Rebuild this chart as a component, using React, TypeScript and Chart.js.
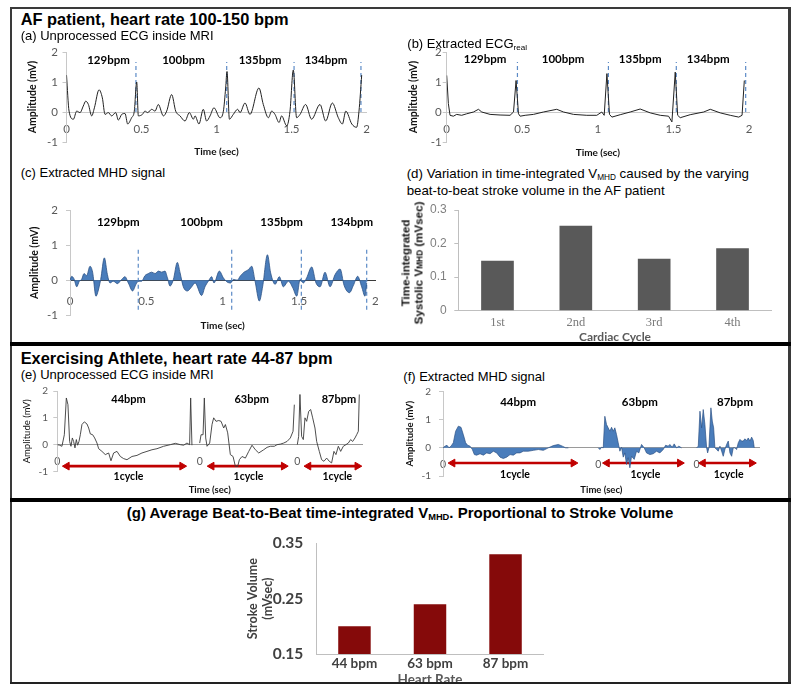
import React, { useEffect, useRef } from 'react';
import { Chart, registerables } from 'chart.js';

Chart.register(...registerables);
Chart.defaults.font.family = 'Lato, "Liberation Sans", sans-serif';

type Pt = [number, number];
type Rect = { l: number; t: number; r: number; b: number };

// ---------------- DATA ----------------
const ampTicks = [-1, 0, 1, 2];
const timeTicks = [0, 0.5, 1, 1.5, 2];
const timeTickLabels = ['0', '0.5', '1', '1.5', '2'];

const afBpmLabels = ['129bpm', '100bpm', '135bpm', '134bpm'];
const afBpmTimesA = [0.28, 0.78, 1.29, 1.73];
const afBpmTimesB = [0.254, 0.77, 1.28, 1.73];
const afBpmTimesC = [0.316, 0.862, 1.386, 1.845];
const afBeatTimesA = [0.463, 1.068, 1.517, 1.963];
const afBeatTimesB = [0.468, 1.07, 1.519, 1.978];
const afBeatTimesC = [0.447, 1.059, 1.515, 1.943];

// (a) unprocessed ECG inside MRI [time s, amplitude mV]
const ecgA: Pt[] = [
  [0, 1.23], [0.017, 0.03], [0.046, -0.24], [0.068, 0.03], [0.09, -0.02], [0.112, 0.2], [0.128, 0.36],
  [0.146, 0.25], [0.168, -0.13], [0.186, 0.14], [0.217, 0.74], [0.239, 0.47], [0.257, -0.08], [0.279, -0.02],
  [0.301, -0.13], [0.328, -0.02], [0.346, -0.27], [0.368, -0.08], [0.39, -0.05], [0.408, -0.4], [0.434, -0.19],
  [0.452, 0.03], [0.468, 1.0], [0.479, -0.13], [0.506, -0.08], [0.523, 0.03], [0.541, -0.02], [0.568, 0.09],
  [0.59, 0.03], [0.612, 0.25], [0.646, -0.13], [0.668, 0.03], [0.701, 0.58], [0.728, 0.03], [0.757, -0.13],
  [0.79, -0.3], [0.819, -0.02], [0.846, -0.24], [0.857, -0.13], [0.883, -0.4], [0.912, 0.09], [0.934, -0.3],
  [0.957, -0.13], [0.983, 0.14], [1.023, -0.19], [1.046, 0.03], [1.061, 0.8], [1.07, 1.35], [1.086, -0.24],
  [1.112, -0.08], [1.141, 0.09], [1.157, -0.02], [1.19, 0.3], [1.223, -0.08], [1.283, 0.8], [1.312, 0.25],
  [1.346, -0.19], [1.368, 0.03], [1.39, -0.08], [1.417, -0.35], [1.434, -0.13], [1.468, -0.46], [1.49, 0.03],
  [1.512, 1.4], [1.534, -0.19], [1.557, -0.08], [1.594, 0.25], [1.634, -0.24], [1.69, 0.25], [1.728, -0.3],
  [1.772, 0.3], [1.812, -0.19], [1.839, -0.4], [1.862, 0.03], [1.902, -0.4], [1.934, -0.51], [1.95, 0.03],
  [1.968, 1.23],
];

// (b) extracted ECG real
const ecgB: Pt[] = [
  [0, 1.22], [0.011, 0.28], [0.022, -0.11], [0.044, -0.14], [0.066, -0.08], [0.099, -0.11], [0.132, -0.06],
  [0.177, 0], [0.21, 0.09], [0.232, 0], [0.287, -0.08], [0.353, -0.1], [0.419, -0.11], [0.442, 0], [0.459, 1.05],
  [0.475, -0.06], [0.486, -0.14], [0.519, -0.11], [0.574, -0.08], [0.64, 0], [0.728, 0.09], [0.773, 0],
  [0.839, -0.08], [0.927, -0.11], [0.993, -0.11], [1.026, 0], [1.042, -0.11], [1.06, 1.28], [1.077, -0.08],
  [1.093, -0.17], [1.148, -0.09], [1.214, 0], [1.28, 0.1], [1.347, -0.03], [1.413, -0.11], [1.468, -0.14],
  [1.49, -0.33], [1.512, 1.33], [1.528, -0.11], [1.545, -0.19], [1.611, -0.09], [1.7, 0], [1.744, 0.09],
  [1.81, -0.03], [1.876, -0.11], [1.932, -0.17], [1.954, -0.11], [1.969, 1.05],
];

// (c) extracted MHD signal
const mhdC: Pt[] = [
  [0, 0], [0.011, 0.11], [0.026, 0.04], [0.044, -0.19], [0.061, -0.03], [0.076, 0.02], [0.092, 0.19],
  [0.109, 0.13], [0.131, 0.4], [0.148, 0.23], [0.17, -0.46], [0.181, -0.36], [0.201, 0.02], [0.225, 0.64],
  [0.245, 0.16], [0.262, -0.08], [0.284, -0.03], [0.31, -0.1], [0.338, 0.02], [0.36, 0.1], [0.382, -0.08],
  [0.41, -0.31], [0.432, -0.12], [0.448, -0.03], [0.469, -0.03], [0.491, 0.13], [0.513, 0.19], [0.535, 0.23],
  [0.557, 0.19], [0.579, 0.26], [0.6, 0.23], [0.622, 0.26], [0.638, 0.07], [0.655, -0.17], [0.677, 0.02],
  [0.703, 0.51], [0.721, 0.21], [0.742, -0.19], [0.769, -0.31], [0.797, -0.19], [0.819, -0.08], [0.862, -0.44],
  [0.884, -0.19], [0.906, -0.03], [0.928, 0.1], [0.943, -0.08], [0.978, 0.26], [1.004, 0.07], [1.031, -0.06],
  [1.052, -0.08], [1.07, 0.02], [1.096, 0], [1.114, 0.11], [1.14, 0.23], [1.168, 0.3], [1.19, 0.4],
  [1.212, -0.03], [1.24, -0.6], [1.262, -0.17], [1.293, 0.73], [1.314, 0.21], [1.343, -0.12], [1.371, 0.1],
  [1.397, -0.19], [1.43, -0.03], [1.459, -0.22], [1.485, -0.46], [1.507, 0.02], [1.528, -0.08], [1.55, 0.07],
  [1.583, 0.38], [1.611, -0.08], [1.638, -0.19], [1.67, 0.23], [1.703, -0.19], [1.736, 0.16], [1.769, 0.32],
  [1.795, -0.15], [1.83, -0.36], [1.856, -0.15], [1.884, 0.11], [1.91, -0.19], [1.932, -0.46], [1.943, -0.08],
];

// (d) time-integrated systolic VMHD per cardiac cycle
const afCycles = ['1st', '2nd', '3rd', '4th'];
const afVmhd = [0.149, 0.253, 0.155, 0.186];
const afVmhdTicks = [0, 0.1, 0.2, 0.3];

// (e)/(f) exercising athlete: three cycles, each with local time from its own "0"
const athBpmLabels = ['44bpm', '63bpm', '87bpm'];
const segStartsE = [0, 1.78, 3.0];
const segStartsF = [0, 1.94, 3.17];
const bpmTimesE = [0.89, 2.43, 3.52];
const bpmTimesF = [0.94, 2.46, 3.65];
const cycleArrowsE: Pt[] = [[0.12, 1.56], [1.93, 2.83], [3.14, 3.75]];
const cycleArrowsF: Pt[] = [[0.12, 1.63], [2.05, 2.96], [3.25, 3.86]];
const cycleLabelTimesE = [0.89, 2.39, 3.5];
const cycleLabelTimesF = [0.9, 2.53, 3.57];

const ecgE1: Pt[] = [
  [0, 0], [0.029, -0.02], [0.058, -0.06], [0.088, 0.37], [0.113, 1.74], [0.133, 1.49], [0.154, 0.12],
  [0.171, -0.06], [0.188, 0.25], [0.204, 0.12], [0.221, -0.12], [0.238, 0.19], [0.254, -0.02], [0.271, 0.12],
  [0.288, 0.37], [0.308, 0.75], [0.338, 0.85], [0.371, 0.77], [0.392, 0.62], [0.413, 0.4], [0.442, 0.37],
  [0.467, 0.25], [0.496, 0.06], [0.517, -0.15], [0.558, -0.25], [0.6, -0.37], [0.642, -0.31], [0.671, -0.6],
  [0.704, -0.31], [0.746, -0.25], [0.788, -0.44], [0.829, -0.52], [0.871, -0.56], [0.933, -0.44], [0.996, -0.4],
  [1.058, -0.31], [1.121, -0.25], [1.183, -0.19], [1.246, -0.15], [1.329, -0.06], [1.413, 0], [1.475, 0.05],
  [1.538, 0], [1.579, -0.02], [1.621, 0.06], [1.654, 0], [1.667, 1.74], [1.683, -0.02],
];
const ecgE2: Pt[] = [
  [0, 0.06], [0.017, 0.37], [0.042, 0.37], [0.058, 1.74], [0.075, 0.25], [0.092, -0.06], [0.125, 0.06],
  [0.154, 0.75], [0.175, 1.0], [0.204, 0.87], [0.238, 0.9], [0.267, 0.87], [0.3, 0.62], [0.321, 0.75],
  [0.35, 0.44], [0.383, -0.37], [0.417, -0.44], [0.446, -0.81], [0.475, -0.81], [0.496, -0.56], [0.529, -0.44],
  [0.571, -0.5], [0.613, -0.25], [0.654, -0.02], [0.696, -0.19], [0.738, -0.31], [0.8, -0.19], [0.842, -0.1],
  [0.883, -0.06], [0.933, -0.06], [0.967, 0], [1.008, 0.02], [1.05, 0.06], [1.092, 0.12], [1.133, 0.25],
  [1.167, 0.5], [1.183, 1.49],
];
const ecgE3: Pt[] = [
  [0, 0], [0.017, 0.31], [0.033, 1.87], [0.054, 0.31], [0.075, 0.19], [0.096, 1.0], [0.117, 0.87],
  [0.142, 1.24], [0.167, 1.31], [0.192, 1.0], [0.221, 0.62], [0.242, 0.12], [0.275, -0.25], [0.304, -0.56],
  [0.333, -0.62], [0.367, -0.5], [0.4, -0.62], [0.429, -0.68], [0.458, -0.25], [0.483, -0.37], [0.513, -0.06],
  [0.542, -0.25], [0.575, -0.06], [0.608, 0], [0.638, 0.06], [0.667, 0.19], [0.692, 0.12], [0.721, 0.25],
  [0.742, 0.37], [0.763, 0.5], [0.775, 1.87],
];

const mhdF1: Pt[] = [
  [0, 0], [0.025, 0.06], [0.05, 0.09], [0.075, 0], [0.1, 0.06], [0.129, 0.18], [0.158, 0.59], [0.192, 0.77],
  [0.225, 0.73], [0.254, 0.47], [0.283, 0.18], [0.308, 0.09], [0.338, 0.06], [0.367, -0.06], [0.392, -0.24],
  [0.421, -0.26], [0.463, -0.21], [0.504, -0.26], [0.546, -0.18], [0.588, -0.21], [0.629, -0.12], [0.671, -0.18],
  [0.713, -0.33], [0.754, -0.38], [0.796, -0.33], [0.838, -0.24], [0.879, -0.26], [0.921, -0.18], [0.963, -0.18],
  [1.004, -0.12], [1.067, -0.12], [1.129, -0.09], [1.192, -0.06], [1.254, -0.09], [1.317, 0], [1.379, 0.08],
  [1.442, 0.12], [1.492, 0.06], [1.533, 0], [1.567, 0],
];
const mhdF2: Pt[] = [
  [0, 0], [0.021, -0.06], [0.042, 0.02], [0.063, 0], [0.083, 1.12], [0.104, 0.83], [0.125, 0.71], [0.146, 0.59],
  [0.167, 0.73], [0.188, 0.59], [0.208, 0.71], [0.229, 0.47], [0.25, 0.18], [0.271, -0.12], [0.292, 0.02],
  [0.313, -0.33], [0.333, -0.18], [0.354, -0.59], [0.375, -0.35], [0.396, -0.71], [0.417, -0.3], [0.45, -0.41],
  [0.479, -0.12], [0.508, -0.18], [0.542, 0.12], [0.575, 0], [0.604, -0.18], [0.646, -0.24], [0.688, -0.21],
  [0.729, -0.12], [0.771, -0.18], [0.813, -0.06], [0.842, 0.09], [0.875, 0.06], [0.896, 0.12], [0.925, 0.02],
  [0.95, 0.14], [0.979, 0], [1.008, 0.06], [1.042, 0],
];
const mhdF3: Pt[] = [
  [0, 0], [0.021, 0.06], [0.042, 1.3], [0.063, 0.71], [0.083, 1.36], [0.104, 0.83], [0.125, 0], [0.138, -0.18],
  [0.154, 0], [0.179, 1.42], [0.196, 0.95], [0.213, 0.71], [0.229, 0], [0.25, -0.06], [0.271, -0.12],
  [0.292, 0.06], [0.313, -0.12], [0.333, -0.3], [0.354, -0.06], [0.375, 0.12], [0.396, 0.24], [0.417, -0.18],
  [0.438, -0.3], [0.458, 0], [0.479, 0], [0.5, -0.06], [0.521, 0.18], [0.542, 0.3], [0.563, 0.24], [0.583, 0.24],
  [0.604, 0.32], [0.625, 0.26], [0.646, 0.35], [0.667, 0.24], [0.688, 0.38], [0.708, 0.26], [0.721, 0],
];

// (g) average beat-to-beat time-integrated VMHD
const heartRates = ['44 bpm', '63 bpm', '87 bpm'];
const strokeVolume = [0.2, 0.24, 0.33];
const strokeTicks = [0.15, 0.25, 0.35];

// ---------------- HELPERS ----------------
const toXY = (pts: Pt[], off = 0) => pts.map(([x, y]) => ({ x: x + off, y }));

function zeroPad(s: any) {
  s.paddingLeft = 0;
  s.paddingRight = 0;
  s.paddingTop = 0;
  s.paddingBottom = 0;
}

function makeTextPlugin(items: any[]) {
  return {
    id: 'textLabels',
    afterDatasetsDraw(chart: any) {
      const ctx = chart.ctx;
      const xs = chart.scales.x;
      const ys = chart.scales.y;
      ctx.save();
      items.forEach((it) => {
        ctx.font = it.font;
        ctx.fillStyle = it.color || '#000';
        ctx.textAlign = 'center';
        ctx.textBaseline = 'middle';
        ctx.fillText(it.text, xs.getPixelForValue(it.x), ys.getPixelForValue(it.y));
      });
      ctx.restore();
    },
  };
}

function lineDs(data: any[], color: string, width: number, extra: any = {}) {
  return { data, borderColor: color, borderWidth: width, pointRadius: 0, xAxisID: 'x', yAxisID: 'y', tension: 0, ...extra };
}

function dashDs(t: number, y0: number, y1: number) {
  return lineDs([{ x: t, y: y0 }, { x: t, y: y1 }], '#5b8ac6', 1.2, { borderDash: [4, 3] });
}

function arrowDs(a: number, b: number, y: number) {
  return lineDs([{ x: a, y }, { x: b, y }], '#c00000', 2.6, {
    pointRadius: 4.5,
    pointStyle: 'triangle',
    pointRotation: [-90, 90],
    pointBackgroundColor: '#c00000',
    pointBorderColor: '#c00000',
    pointBorderWidth: 1,
  });
}

function waveConfig(o: any) {
  const yW = o.area.l - o.canvas.l;
  const xH = o.canvas.b - o.area.b;
  return {
    type: 'line',
    data: { datasets: o.datasets },
    plugins: [makeTextPlugin(o.labels)],
    options: {
      responsive: false,
      animation: false,
      events: [],
      layout: { padding: { top: o.area.t - o.canvas.t, right: o.canvas.r - o.area.r, left: 0, bottom: 0 } },
      plugins: { legend: { display: false }, tooltip: { enabled: false } },
      scales: {
        x: {
          type: 'linear',
          position: { y: 0 },
          min: 0,
          max: o.xMax,
          afterBuildTicks: (s: any) => { s.ticks = o.xTicks.map((value: number) => ({ value })); },
          afterFit: (s: any) => zeroPad(s),
          ticks: { autoSkip: false, maxRotation: 0, font: o.xTickFont, color: '#595959', padding: o.xTickPad, callback: o.xLabel },
          grid: { display: false, drawTicks: false },
          border: { display: true, color: o.zeroColor, width: 1 },
        },
        x2: {
          type: 'linear',
          position: 'bottom',
          min: 0,
          max: 1,
          ticks: { display: false },
          grid: { display: false, drawTicks: false },
          border: { display: false },
          title: { display: true, text: 'Time (sec)', font: o.xTitleFont, color: '#111', padding: { top: 0, bottom: o.xTitlePad } },
          afterFit: (s: any) => { zeroPad(s); s.height = xH; },
        },
        y: {
          type: 'linear',
          position: 'left',
          min: -1,
          max: 2,
          afterBuildTicks: (s: any) => { s.ticks = ampTicks.map((value) => ({ value })); },
          afterFit: (s: any) => { zeroPad(s); s.width = yW; },
          ticks: { font: o.yTickFont, color: '#595959', padding: o.yTickPad },
          grid: { display: true, drawOnChartArea: false, drawTicks: true, tickLength: 4, color: '#c8c8c8' },
          border: { display: true, color: '#c8c8c8' },
          title: { display: true, text: 'Amplitude (mV)', font: o.yTitleFont, color: '#111', padding: { top: o.yTitlePad, bottom: 0 } },
        },
      },
    },
  };
}

function barConfig(o: any) {
  const yW = o.area.l - o.canvas.l;
  const xH = o.canvas.b - o.area.b;
  return {
    type: 'bar',
    data: {
      labels: o.labels,
      datasets: [{ data: o.values, backgroundColor: o.color, barPercentage: o.barPct, categoryPercentage: 1 }],
    },
    options: {
      responsive: false,
      animation: false,
      events: [],
      layout: { padding: { top: o.area.t - o.canvas.t, right: o.canvas.r - o.area.r, left: 0, bottom: 0 } },
      plugins: { legend: { display: false }, tooltip: { enabled: false } },
      scales: {
        x: {
          type: 'category',
          position: 'bottom',
          afterFit: (s: any) => { zeroPad(s); s.height = xH; },
          ticks: { font: o.xTickFont, color: o.xTickColor, padding: o.xTickPad, maxRotation: 0 },
          grid: { display: false, drawTicks: false },
          border: { display: true, color: '#bfbfbf' },
          title: { display: true, text: o.xTitle, font: o.xTitleFont, color: o.xTitleColor, padding: { top: 0, bottom: o.xTitlePad } },
        },
        y: {
          type: 'linear',
          position: 'left',
          min: o.yMin,
          max: o.yMax,
          afterBuildTicks: (s: any) => { s.ticks = o.yTicks.map((value: number) => ({ value })); },
          afterFit: (s: any) => { zeroPad(s); s.width = yW; },
          ticks: { font: o.yTickFont, color: o.yTickColor, padding: o.yTickPad, callback: (v: number) => String(v) },
          grid: { display: o.yTickMarks, drawOnChartArea: false, drawTicks: o.yTickMarks, tickLength: 4, color: '#bfbfbf' },
          border: { display: true, color: '#bfbfbf' },
          title: {
            display: !!o.yTitle, text: o.yTitle || '', font: o.yTitleFont, color: o.yTitleColor,
            padding: { top: o.yTitlePad || 0, bottom: 0 },
          },
        },
      },
    },
  };
}

// ---------------- CHART SPECS ----------------
const bpmFont = 'bold 11.5px Lato';

const specA = {
  canvas: { l: 18, t: 44, r: 380, b: 160 },
  area: { l: 66.5, t: 52, r: 366.5, b: 142 },
  xMax: 2, xTicks: timeTicks, xLabel: (_v: number, i: number) => timeTickLabels[i],
  xTickFont: { size: 11.5 }, xTickPad: 10.6, zeroColor: '#c8c8c8',
  yTickFont: { size: 11.5 }, yTickPad: 4.5,
  yTitleFont: { size: 10.5, weight: 'bold' }, yTitlePad: 8.4,
  xTitleFont: { size: 10, weight: 'bold' }, xTitlePad: 2.3,
  datasets: [
    lineDs(toXY(ecgA), '#222', 1, { cubicInterpolationMode: 'monotone' }),
    ...afBeatTimesA.map((t) => dashDs(t, 0, 1.67)),
  ],
  labels: afBpmLabels.map((text, i) => ({ text, x: afBpmTimesA[i], y: 1.73, font: bpmFont })),
};

const specB = {
  canvas: { l: 400, t: 44, r: 765, b: 161 },
  area: { l: 446.7, t: 52, r: 749, b: 142 },
  xMax: 2, xTicks: timeTicks, xLabel: (_v: number, i: number) => timeTickLabels[i],
  xTickFont: { size: 11.5 }, xTickPad: 10.6, zeroColor: '#c8c8c8',
  yTickFont: { size: 11.5 }, yTickPad: 1,
  yTitleFont: { size: 10.5, weight: 'bold' }, yTitlePad: 7.7,
  xTitleFont: { size: 10, weight: 'bold' }, xTitlePad: 2.3,
  datasets: [
    lineDs(toXY(ecgB), '#222', 1),
    ...afBeatTimesB.map((t) => dashDs(t, 0, 1.67)),
  ],
  labels: afBpmLabels.map((text, i) => ({ text, x: afBpmTimesB[i], y: 1.75, font: bpmFont })),
};

const specC = {
  canvas: { l: 18, t: 200, r: 385, b: 334 },
  area: { l: 70, t: 210.5, r: 375.4, b: 315 },
  xMax: 2, xTicks: timeTicks, xLabel: (_v: number, i: number) => timeTickLabels[i],
  xTickFont: { size: 11.5 }, xTickPad: 14.1, zeroColor: '#3a3a3a',
  yTickFont: { size: 11.5 }, yTickPad: 8,
  yTitleFont: { size: 10.5, weight: 'bold' }, yTitlePad: 10.7,
  xTitleFont: { size: 10, weight: 'bold' }, xTitlePad: 2.3,
  datasets: [
    lineDs(toXY(mhdC), '#2c5285', 0.8, { fill: 'origin', backgroundColor: '#4a7dbb', cubicInterpolationMode: 'monotone' }),
    ...afBeatTimesC.map((t) => dashDs(t, -0.85, 0.9)),
  ],
  labels: afBpmLabels.map((text, i) => ({ text, x: afBpmTimesC[i], y: 1.66, font: bpmFont })),
};

const specE = {
  canvas: { l: 15, t: 385, r: 375, b: 498 },
  area: { l: 57.3, t: 391, r: 362.1, b: 471.5 },
  xMax: 3.81, xTicks: segStartsE, xLabel: () => '0',
  xTickFont: { size: 10.5 }, xTickPad: 10.7, zeroColor: '#9a9a9a',
  yTickFont: { size: 10 }, yTickPad: 5.3,
  yTitleFont: { size: 9.5 }, yTitlePad: 6,
  xTitleFont: { size: 9.5, weight: 'bold' }, xTitlePad: 2.3,
  datasets: [
    ...[ecgE1, ecgE2, ecgE3].map((seg, i) => lineDs(toXY(seg, segStartsE[i]), '#3a3a3a', 0.9)),
    ...cycleArrowsE.map(([a, b]) => arrowDs(a, b, -0.8)),
  ],
  labels: [
    ...athBpmLabels.map((text, i) => ({ text, x: bpmTimesE[i], y: 1.67, font: 'bold 11px Lato' })),
    ...cycleLabelTimesE.map((x) => ({ text: '1cycle', x, y: -1.19, font: 'bold 10.5px Lato' })),
  ],
};

const specF = {
  canvas: { l: 400, t: 385, r: 775, b: 498 },
  area: { l: 443, t: 391.5, r: 759.8, b: 476 },
  xMax: 3.96, xTicks: segStartsF, xLabel: () => '0',
  xTickFont: { size: 10.5 }, xTickPad: 10, zeroColor: '#9a9a9a',
  yTickFont: { size: 10 }, yTickPad: 8,
  yTitleFont: { size: 9.5, weight: 'bold' }, yTitlePad: 4.3,
  xTitleFont: { size: 9.5, weight: 'bold' }, xTitlePad: 2.3,
  datasets: [
    ...[mhdF1, mhdF2, mhdF3].map((seg, i) =>
      lineDs(toXY(seg, segStartsF[i]), '#2c5285', 0.7, { fill: 'origin', backgroundColor: '#4a7dbb' })),
    ...cycleArrowsF.map(([a, b]) => arrowDs(a, b, -0.54)),
  ],
  labels: [
    ...athBpmLabels.map((text, i) => ({ text, x: bpmTimesF[i], y: 1.6, font: 'bold 11.5px Lato' })),
    ...cycleLabelTimesF.map((x) => ({ text: '1cycle', x, y: -0.96, font: 'bold 10.5px Lato' })),
  ],
};

const specD = {
  canvas: { l: 400, t: 200, r: 785, b: 348 },
  area: { l: 458.3, t: 210, r: 771.7, b: 310.7 },
  labels: afCycles, values: afVmhd, color: '#595959', barPct: 0.417,
  yMin: 0, yMax: 0.3, yTicks: afVmhdTicks,
  yTickFont: { size: 12, family: '"Liberation Sans", Arial, sans-serif' }, yTickColor: '#808080', yTickPad: 7.6, yTickMarks: true,
  xTickFont: { size: 12.5, family: '"Liberation Serif", serif' }, xTickColor: '#7a7a7a', xTickPad: 4.4,
  xTitle: 'Cardiac Cycle', xTitleFont: { size: 12, weight: 'bold' }, xTitleColor: '#595959', xTitlePad: 3.5,
  yTitle: null,
};

const specG = {
  canvas: { l: 235, t: 530, r: 560, b: 690 },
  area: { l: 316.7, t: 543.3, r: 543.3, b: 654 },
  labels: heartRates, values: strokeVolume, color: '#850a0a', barPct: 0.43,
  yMin: 0.15, yMax: 0.35, yTicks: strokeTicks,
  yTickFont: { size: 15.5, weight: 'bold' }, yTickColor: '#404040', yTickPad: 13.4, yTickMarks: false,
  xTickFont: { size: 13.5, weight: 'bold' }, xTickColor: '#404040', xTickPad: 1.9,
  xTitle: 'Heart Rate', xTitleFont: { size: 13.5, weight: 'bold' }, xTitleColor: '#595959', xTitlePad: 2.6,
  yTitle: ['Stroke Volume', '(mVsec)'],
  yTitleFont: { size: 12.5, weight: 'bold', lineHeight: 1.2 }, yTitleColor: '#404040', yTitlePad: 10.8,
};

// ---------------- COMPONENTS ----------------
function ChartBox({ rect, make }: { rect: Rect; make: () => any }) {
  const ref = useRef<HTMLCanvasElement>(null);
  const w = rect.r - rect.l;
  const h = rect.b - rect.t;
  useEffect(() => {
    const chart = new Chart(ref.current as HTMLCanvasElement, make());
    return () => chart.destroy();
  }, []);
  return (
    <canvas
      ref={ref}
      width={w}
      height={h}
      style={{ position: 'absolute', left: rect.l, top: rect.t, width: w, height: h }}
    />
  );
}

const sans = '"Liberation Sans", Arial, sans-serif';

function Txt({ left, top, size, bold, children, style }: any) {
  return (
    <div
      style={{
        position: 'absolute', left, top, fontFamily: sans, fontSize: size, fontWeight: bold ? 'bold' : 'normal',
        lineHeight: 1, whiteSpace: 'nowrap', color: '#000', ...style,
      }}
    >
      {children}
    </div>
  );
}

const Sub = ({ children, size = '0.62em', shift = '-0.22em' }: any) => (
  <span style={{ fontSize: size, verticalAlign: shift }}>{children}</span>
);

function Line({ l, t, w, h, c }: any) {
  return <div style={{ position: 'absolute', left: l, top: t, width: w, height: h, background: c }} />;
}

export default function App() {
  return (
    <div style={{ position: 'absolute', left: 0, top: 0, width: 800, height: 693, background: '#fff', overflow: 'hidden' }}>
      <ChartBox rect={specA.canvas} make={() => waveConfig(specA)} />
      <ChartBox rect={specB.canvas} make={() => waveConfig(specB)} />
      <ChartBox rect={specC.canvas} make={() => waveConfig(specC)} />
      <ChartBox rect={specD.canvas} make={() => barConfig(specD)} />
      <ChartBox rect={specE.canvas} make={() => waveConfig(specE)} />
      <ChartBox rect={specF.canvas} make={() => waveConfig(specF)} />
      <ChartBox rect={specG.canvas} make={() => barConfig(specG)} />

      <Txt left={20.7} top={11.1} size={16.4} bold>AF patient, heart rate 100-150 bpm</Txt>
      <Txt left={20.7} top={29} size={13}>(a) Unprocessed ECG inside MRI</Txt>
      <Txt left={407.3} top={37.3} size={13}>(b) Extracted ECG<Sub>real</Sub></Txt>
      <Txt left={20.7} top={166.3} size={13}>(c) Extracted MHD signal</Txt>
      <Txt left={406.7} top={167} size={13.3}>(d) Variation in time-integrated V<Sub>MHD</Sub> caused by the varying</Txt>
      <Txt left={406.7} top={183.7} size={13.3}>beat-to-beat stroke volume in the AF patient</Txt>
      <div
        style={{
          position: 'absolute', left: 413.4, top: 263, transform: 'translate(-50%, -50%) rotate(-90deg)',
          fontFamily: sans, fontSize: 11.6, fontWeight: 'bold', lineHeight: '13.3px', textAlign: 'center',
          whiteSpace: 'nowrap', color: '#111',
        }}
      >
        <div>Time-integrated</div>
        <div>Systolic V<Sub size="0.72em" shift="-0.05em">MHD</Sub> (mVsec)</div>
      </div>
      <Txt left={20.7} top={350.1} size={16.4} bold>Exercising Athlete, heart rate 44-87 bpm</Txt>
      <Txt left={20.7} top={368.3} size={13}>(e) Unprocessed ECG inside MRI</Txt>
      <Txt left={403.3} top={369.7} size={13}>(f) Extracted MHD signal</Txt>
      <Txt left={0} top={504.6} size={15} bold style={{ width: 800, textAlign: 'center' }}>
        (g) Average Beat-to-Beat time-integrated V<Sub>MHD</Sub>. Proportional to Stroke Volume
      </Txt>

      <Line l={10} t={7} w={781} h={2} c="#3a3a3a" />
      <Line l={10} t={7} w={2} h={677} c="#3a3a3a" />
      <Line l={788} t={7} w={2.5} h={677} c="#3a3a3a" />
      <Line l={10} t={342} w={781} h={4} c="#000" />
      <Line l={10} t={498} w={781} h={3.5} c="#000" />
      <Line l={10} t={682} w={781} h={2} c="#222" />
    </div>
  );
}
